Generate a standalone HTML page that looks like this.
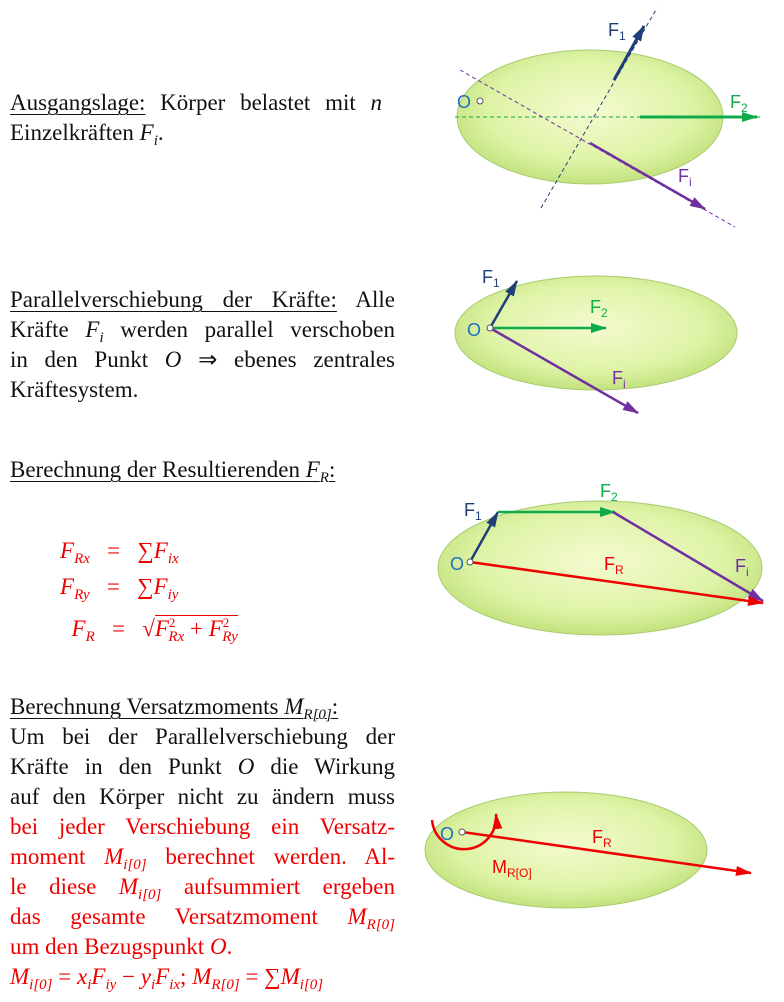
<!DOCTYPE html>
<html><head><meta charset="utf-8"><style>
body{margin:0;width:784px;height:1002px;background:#fff;position:relative;overflow:hidden;font-family:"Liberation Serif",serif;font-size:23px;color:#111}
.t{position:absolute;left:10px;width:385px;line-height:30px}
.t div{height:30px;text-align:justify;text-align-last:justify;white-space:nowrap}
.t div.last{text-align-last:left}
.u{text-decoration:underline;text-decoration-thickness:1px;text-underline-offset:4px}
.r{color:#e00}
sub{font-size:15px;vertical-align:baseline;position:relative;top:5px;line-height:0}
sup{font-size:13px;vertical-align:baseline;position:relative;top:-9px;line-height:0}
svg{position:absolute;left:0;top:0}
.lab{font-family:"Liberation Sans",sans-serif;font-size:18px}
</style></head><body>
<div class="t" style="top:88px;width:372px"><div><span class="u">Ausgangslage:</span> Körper belastet mit <i>n</i></div><div class="last">Einzelkräften <i>F<sub>i</sub></i>.</div></div>
<div class="t" style="top:285px"><div><span class="u">Parallelverschiebung der Kräfte:</span> Alle</div><div>Kräfte <i>F<sub>i</sub></i> werden parallel verschoben</div><div>in den Punkt <i>O</i> ⇒ ebenes zentrales</div><div class="last">Kräftesystem.</div></div>
<div class="t" style="top:455px"><div class="last"><span class="u">Berechnung der Resultierenden <i>F<sub>R</sub></i>:</span></div></div>
<div class="r" style="position:absolute;left:60px;top:533px;line-height:36px">
<div><i>F<sub>Rx</sub></i>&nbsp;&nbsp; = &nbsp;&nbsp;∑<i>F<sub>ix</sub></i></div>
<div><i>F<sub>Ry</sub></i>&nbsp;&nbsp; = &nbsp;&nbsp;∑<i>F<sub>iy</sub></i></div>
<div style="margin-top:6px">&nbsp;&nbsp;<i>F<sub>R</sub></i>&nbsp;&nbsp; = &nbsp;&nbsp;√<span style="border-top:1px solid #e00"><i>F</i><sup>2</sup><sub style="margin-left:-7px"><i>Rx</i></sub> + <i>F</i><sup>2</sup><sub style="margin-left:-7px"><i>Ry</i></sub></span></div>
</div>
<div class="t" style="top:692px">
<div class="last"><span class="u">Berechnung Versatzmoments <i>M<sub>R[0]</sub></i>:</span></div>
<div>Um bei der Parallelverschiebung der</div>
<div>Kräfte in den Punkt <i>O</i> die Wirkung</div>
<div>auf den Körper nicht zu ändern muss</div>
<div class="r">bei jeder Verschiebung ein Versatz-</div>
<div class="r">moment <i>M<sub>i[0]</sub></i> berechnet werden. Al-</div>
<div class="r">le diese <i>M<sub>i[0]</sub></i> aufsummiert ergeben</div>
<div class="r">das gesamte Versatzmoment <i>M<sub>R[0]</sub></i></div>
<div class="r last">um den Bezugspunkt <i>O</i>.</div>
<div class="r last"><i>M<sub>i[0]</sub></i> = <i>x<sub>i</sub>F<sub>iy</sub></i> − <i>y<sub>i</sub>F<sub>ix</sub></i>; <i>M<sub>R[0]</sub></i> = ∑<i>M<sub>i[0]</sub></i></div>
</div>
<svg width="784" height="1002">
<defs>
<radialGradient id="g" cx="50%" cy="45%" r="55%"><stop offset="0" stop-color="#f4fbd0"/><stop offset="0.7" stop-color="#def3a6"/><stop offset="1" stop-color="#c3e27e"/></radialGradient>
<marker id="ab" markerUnits="userSpaceOnUse" markerWidth="16" markerHeight="12" refX="15" refY="6" orient="auto"><path d="M0,1 L16,6 L0,11z" fill="#1f3f7a"/></marker>
<marker id="ag" markerUnits="userSpaceOnUse" markerWidth="16" markerHeight="12" refX="15" refY="6" orient="auto"><path d="M0,1 L16,6 L0,11z" fill="#0faa4a"/></marker>
<marker id="ap" markerUnits="userSpaceOnUse" markerWidth="16" markerHeight="12" refX="15" refY="6" orient="auto"><path d="M0,1 L16,6 L0,11z" fill="#7030a0"/></marker>
<marker id="ar" markerUnits="userSpaceOnUse" markerWidth="16" markerHeight="12" refX="15" refY="6" orient="auto"><path d="M0,1 L16,6 L0,11z" fill="#e00"/></marker>
</defs>
<g>
<ellipse cx="590" cy="117" rx="133" ry="67" fill="url(#g)" stroke="#a8cc70"/>
<line x1="541" y1="208" x2="657" y2="8" stroke="#1f3f7a" stroke-dasharray="4,3"/>
<line x1="614" y1="80" x2="644" y2="26" stroke="#1f3f7a" stroke-width="3" marker-end="url(#ab)"/>
<line x1="455" y1="117" x2="760" y2="117" stroke="#0faa4a" stroke-dasharray="4,3"/>
<line x1="640" y1="117" x2="757" y2="117" stroke="#0faa4a" stroke-width="3" marker-end="url(#ag)"/>
<line x1="460" y1="70" x2="735" y2="227" stroke="#7030a0" stroke-dasharray="4,3"/>
<line x1="590" y1="143" x2="705" y2="209" stroke="#7030a0" stroke-width="2.5" marker-end="url(#ap)"/>
<text x="457" y="108" class="lab" fill="#1f6fbf">O</text><circle cx="480" cy="101" r="3" fill="#fff" stroke="#555"/>
<text x="608" y="36" class="lab" fill="#1f3f7a">F<tspan font-size="12" dy="4">1</tspan></text>
<text x="730" y="108" class="lab" fill="#0faa4a">F<tspan font-size="12" dy="4">2</tspan></text>
<text x="678" y="182" class="lab" fill="#7030a0">F<tspan font-size="12" dy="4">i</tspan></text>
</g>
<g>
<ellipse cx="596" cy="333" rx="141" ry="57" fill="url(#g)" stroke="#a8cc70"/>
<line x1="490" y1="328" x2="517" y2="281" stroke="#1f3f7a" stroke-width="2.5" marker-end="url(#ab)"/>
<line x1="490" y1="328" x2="606" y2="328" stroke="#0faa4a" stroke-width="2.5" marker-end="url(#ag)"/>
<line x1="490" y1="328" x2="638" y2="413" stroke="#7030a0" stroke-width="2.5" marker-end="url(#ap)"/>
<text x="467" y="336" class="lab" fill="#1f6fbf">O</text><circle cx="490" cy="328" r="3" fill="#fff" stroke="#555"/>
<text x="482" y="283" class="lab" fill="#1f3f7a">F<tspan font-size="12" dy="4">1</tspan></text>
<text x="590" y="313" class="lab" fill="#0faa4a">F<tspan font-size="12" dy="4">2</tspan></text>
<text x="612" y="384" class="lab" fill="#7030a0">F<tspan font-size="12" dy="4">i</tspan></text>
</g>
<g>
<ellipse cx="600" cy="568" rx="162" ry="67" fill="url(#g)" stroke="#a8cc70"/>
<line x1="470" y1="562" x2="498" y2="512" stroke="#1f3f7a" stroke-width="2.5" marker-end="url(#ab)"/>
<line x1="498" y1="512" x2="615" y2="512" stroke="#0faa4a" stroke-width="2.5" marker-end="url(#ag)"/>
<line x1="613" y1="512" x2="763" y2="601" stroke="#7030a0" stroke-width="2.5" marker-end="url(#ap)"/>
<line x1="470" y1="562" x2="763" y2="603" stroke="#e00" stroke-width="2.5" marker-end="url(#ar)"/>
<text x="450" y="570" class="lab" fill="#1f6fbf">O</text><circle cx="470" cy="562" r="3" fill="#fff" stroke="#555"/>
<text x="464" y="516" class="lab" fill="#1f3f7a">F<tspan font-size="12" dy="4">1</tspan></text>
<text x="600" y="497" class="lab" fill="#0faa4a">F<tspan font-size="12" dy="4">2</tspan></text>
<text x="735" y="572" class="lab" fill="#7030a0">F<tspan font-size="12" dy="4">i</tspan></text>
<text x="604" y="570" class="lab" fill="#e00">F<tspan font-size="12" dy="4">R</tspan></text>
</g>
<g>
<ellipse cx="566" cy="850" rx="141" ry="58" fill="url(#g)" stroke="#a8cc70"/>
<line x1="462" y1="832" x2="751" y2="873" stroke="#e00" stroke-width="2.5" marker-end="url(#ar)"/>
<path d="M432,820 A32,32 0 1 0 496,814" fill="none" stroke="#e00" stroke-width="2.5" marker-end="url(#ar)"/>
<text x="440" y="840" class="lab" fill="#1f6fbf">O</text><circle cx="462" cy="832" r="3" fill="#fff" stroke="#555"/>
<text x="592" y="843" class="lab" fill="#e00">F<tspan font-size="12" dy="4">R</tspan></text>
<text x="492" y="873" class="lab" fill="#e00">M<tspan font-size="12" dy="4">R[O]</tspan></text>
</g>
</svg>
</body></html>
